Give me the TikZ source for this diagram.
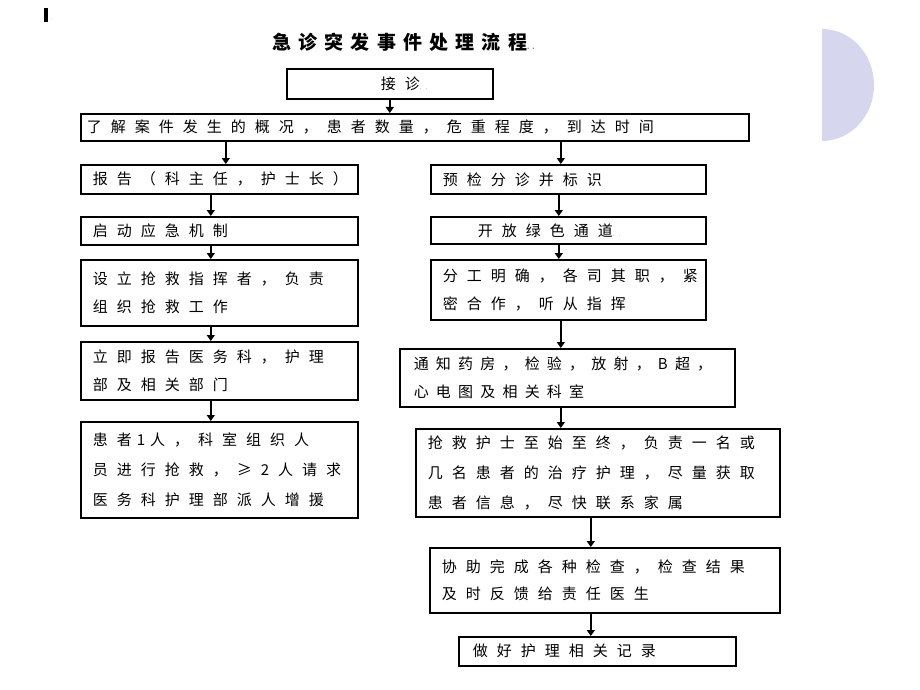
\documentclass[tikz,border=0pt]{standalone}
\usepackage{fontspec}
\newfontfamily\cjk[LetterSpace=60]{Noto Sans CJK SC}
\newfontfamily\cjkt[LetterSpace=38]{Noto Sans CJK SC}
\usetikzlibrary{arrows.meta}
\definecolor{lav}{HTML}{D6D6EE}
\newcommand{\pmark}{{\fontsize{7}{7}\selectfont\color{gray}..}}
\begin{document}
\begin{tikzpicture}[x=1pt,y=-1pt,
  box/.style={draw=black, line width=1.6pt, anchor=north west, inner xsep=12pt, inner ysep=0pt,
    align=left, font=\cjk\fontsize{15}{28}\selectfont},
  arr/.style={line width=1.6pt, -{Triangle[width=8pt,length=6pt]}},
  ]
\useasboundingbox (0,0) rectangle (920,690);
% decoration
\fill[black] (44,8) rectangle (48,22);
\node[font=\fontsize{6}{6}\selectfont, text=gray, inner sep=0pt] (cur) at (52,19) {.};
\begin{scope}
  \clip (822,20) rectangle (900,150);
  \fill[lav] (822,85) ellipse [x radius=52pt, y radius=56pt];
\end{scope}
% title
\node[font=\cjkt\bfseries\fontsize{19}{19}\selectfont, anchor=west, inner sep=0pt] (title) at (272,42) {急诊突发事件处理流程\pmark};
% boxes
\node[box, minimum width=206pt, minimum height=30pt, text width=182pt] (jz) at (286,68) {\hspace*{82pt}接诊\pmark};
\node[box, inner xsep=6pt, minimum width=668pt, minimum height=27pt, text width=656pt] (lj) at (80,113) {了解案件发生的概况，患者数量，危重程度，到达时间};
% left column
\node[box, minimum width=277pt, minimum height=29pt, text width=253pt] (bg) at (80,164) {报告（科主任，护士长）};
\node[box, minimum width=277pt, minimum height=28pt, text width=253pt] (qd) at (80,216) {启动应急机制};
\node[box, minimum width=277pt, minimum height=66pt, text width=253pt] (sl) at (80,259) {设立抢救指挥者，负责\\组织抢救工作};
\node[box, minimum width=277pt, minimum height=58pt, text width=253pt] (lb) at (80,341) {立即报告医务科，护理\\部及相关部门};
\node[box, minimum width=277pt, minimum height=96pt, text width=253pt, font=\cjk\fontsize{15}{30}\selectfont] (hz) at (80,421) {患者 1 人，科室组织人\\员进行抢救，≥2人请求\\医务科护理部派人增援};
% right column
\node[box, minimum width=275pt, minimum height=29pt, text width=251pt] (yj) at (430,164) {预检分诊并标识};
\node[box, minimum width=275pt, minimum height=27pt, text width=251pt] (kf) at (430,216) {\hspace*{35pt}开放绿色通道\pmark};
\node[box, minimum width=275pt, minimum height=60pt, text width=251pt] (fg) at (430,259) {分工明确，各司其职，紧\\密合作，听从指挥};
\node[box, inner xsep=14pt, minimum width=335pt, minimum height=58pt, text width=307pt, font=\cjk\fontsize{15}{28}\selectfont\addfontfeature{LetterSpace=48}] (tz) at (399,348) {通知药房，检验，放射，B超，\\心电图及相关科室};
\node[box, minimum width=364pt, minimum height=88pt, text width=340pt, font=\cjk\fontsize{15}{30}\selectfont] (qj) at (415,428) {抢救护士至始至终，负责一名或\\几名患者的治疗护理，尽量获取\\患者信息，尽快联系家属};
\node[box, minimum width=350pt, minimum height=65pt, text width=326pt, font=\cjk\fontsize{15}{27}\selectfont] (xz) at (429,547) {协助完成各种检查，检查结果\\及时反馈给责任医生};
\node[box, inner xsep=14pt, minimum width=277pt, minimum height=29pt, text width=249pt] (zh) at (458,636) {做好护理相关记录};
% connectors
\draw[arr] (jz.south) -- (jz.south |- lj.north);
\draw[arr] ([xshift=6.5pt]bg.north |- lj.south) -- ([xshift=6.5pt]bg.north);
\draw[arr] ([xshift=-7.5pt]yj.north |- lj.south) -- ([xshift=-7.5pt]yj.north);
\draw[arr] ([xshift=-8.5pt]bg.south) -- ([xshift=-8.5pt]qd.north);
\draw[arr] ([xshift=-8.5pt]qd.south) -- ([xshift=-8.5pt]sl.north);
\draw[arr] ([xshift=-8.5pt]sl.south) -- ([xshift=-8.5pt]lb.north);
\draw[arr] ([xshift=-8.5pt]lb.south) -- ([xshift=-8.5pt]hz.north);
\draw[arr] ([xshift=-9.5pt]yj.south) -- ([xshift=-9.5pt]kf.north);
\draw[arr] ([xshift=-9.5pt]kf.south) -- ([xshift=-9.5pt]fg.north);
\draw[arr] ([xshift=-7.5pt]fg.south) -- ([xshift=-7.5pt]fg.south |- tz.north);
\draw[arr] ([xshift=-6.5pt]tz.south) -- ([xshift=-6.5pt]tz.south |- qj.north);
\draw[arr] ([xshift=-7pt]qj.south) -- ([xshift=-7pt]qj.south |- xz.north);
\draw[arr] ([xshift=-14pt]xz.south) -- ([xshift=-14pt]xz.south |- zh.north);
\end{tikzpicture}
\end{document}
